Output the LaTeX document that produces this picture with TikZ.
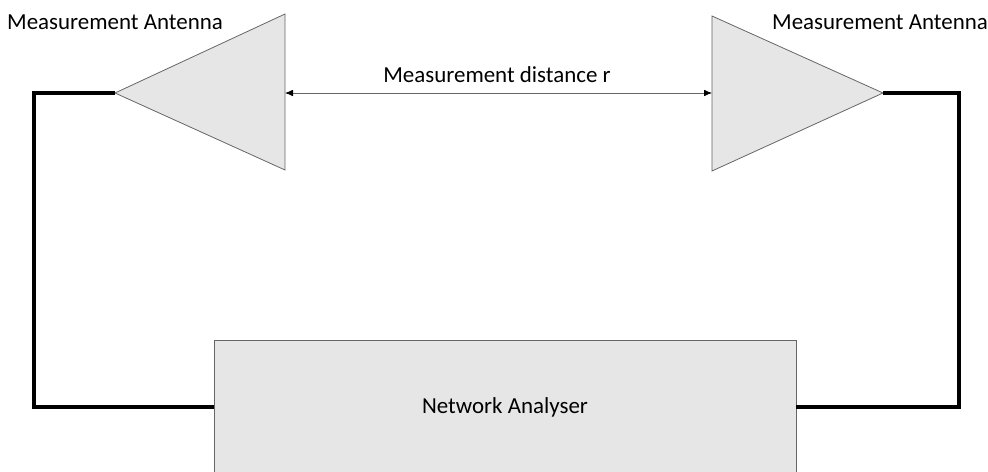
\documentclass[tikz,border=0pt]{standalone}
\usepackage{fontspec}
\setmainfont{Carlito}
\usetikzlibrary{arrows.meta}
\definecolor{partgray}{HTML}{E6E6E6}

\begin{document}
\begin{tikzpicture}[x=0.75pt, y=-0.75pt, font=\fontsize{17.2}{20}\selectfont,
        wire/.style={line width=2.4pt, line join=miter},
        part/.style={draw=black!60, fill=partgray, line width=0.6pt}]
    \useasboundingbox (0,0) rectangle (988,471);
    % the two antennas
    \coordinate (txtip) at (115,93);
    \coordinate (txbase) at (285,93);
    \coordinate (rxbase) at (712,93);
    \coordinate (rxtip) at (883,93);
    \draw[part] (txtip) -- (285,14) -- (285,170) -- cycle;
    \draw[part] (rxtip) -- (712,16) -- (712,171) -- cycle;
        \node (txlabel) at (115,22) {Measurement Antenna};
        \node (rxlabel) at (880,22) {Measurement Antenna};
    \draw[{Latex[length=6pt,width=5pt,black]}-{Latex[length=6pt,width=5pt,black]}, draw=black!60, line width=0.6pt] (txbase) -- (rxbase);
        \node (dist) at (497,75) {Measurement distance r};
    % analyser box, runs off the bottom edge
    \node[part, minimum width=436.5pt, minimum height=100.5pt] (na) at (505,407) {Network Analyser};
    \draw[wire] (txtip) -- (34,93) |- (na.west);
    \draw[wire] (rxtip) -- (959,93) |- (na.east);
\end{tikzpicture}
\end{document}
